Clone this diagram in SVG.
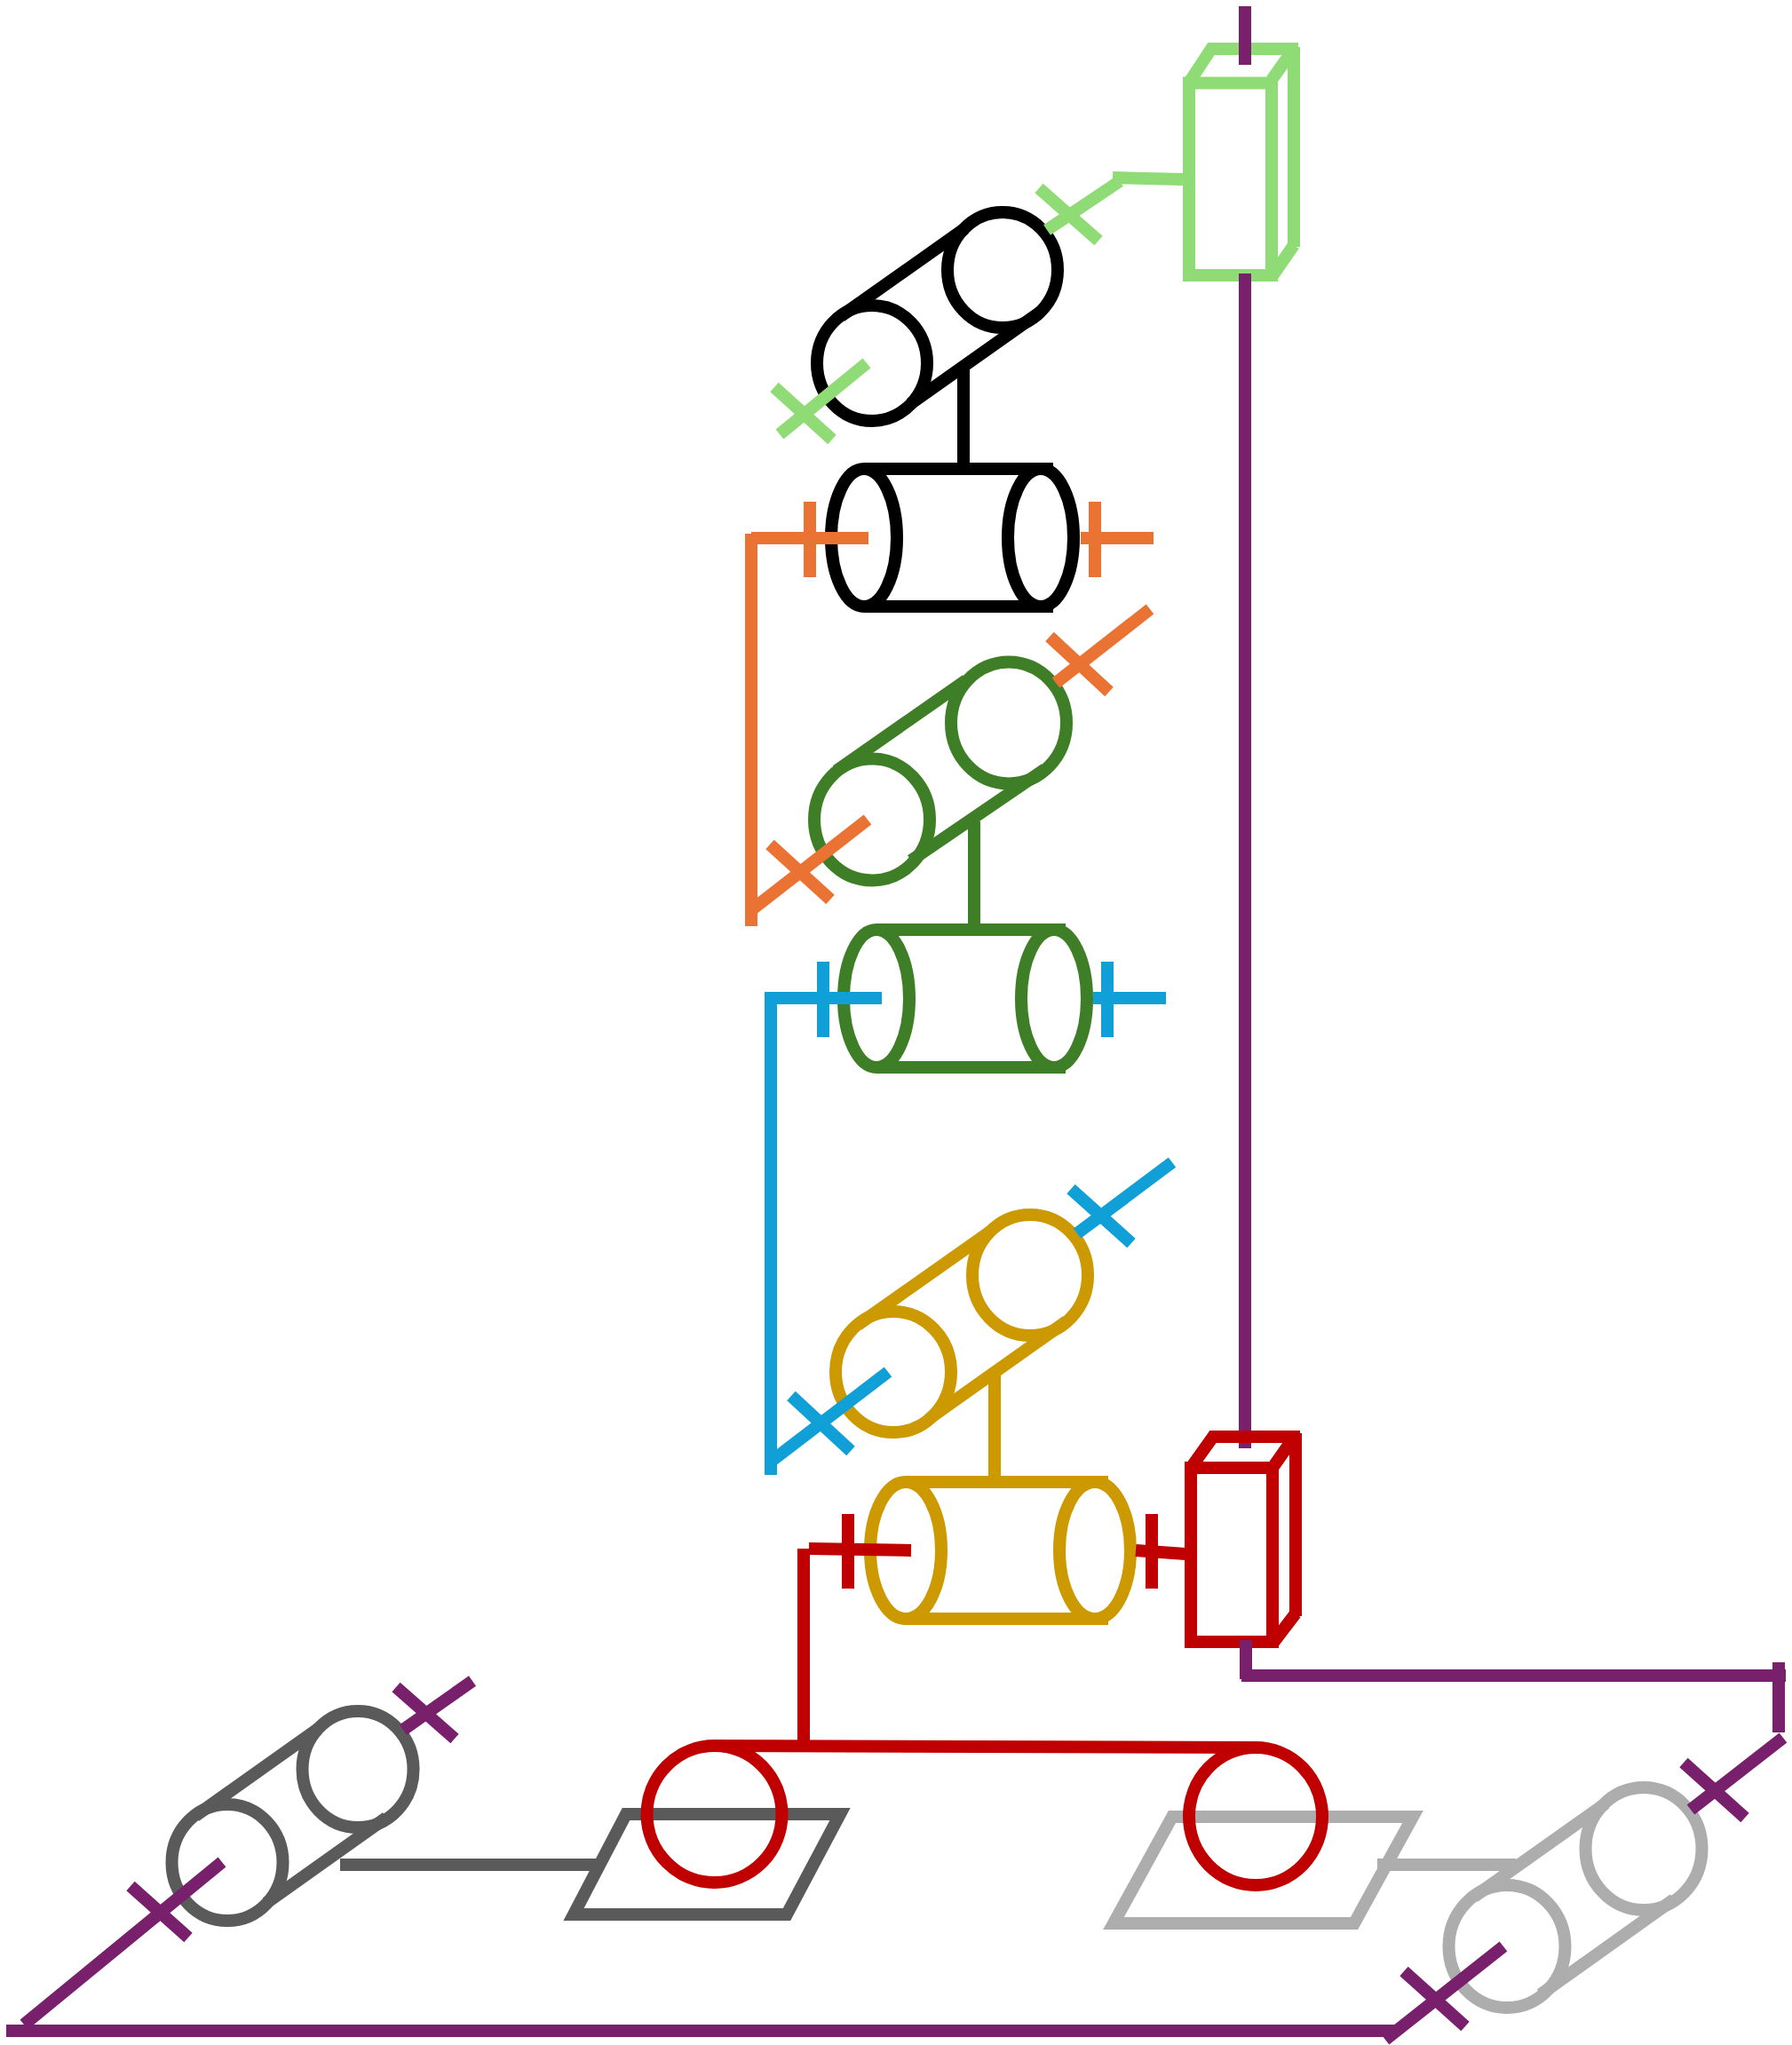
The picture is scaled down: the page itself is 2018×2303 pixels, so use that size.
<svg xmlns="http://www.w3.org/2000/svg" width="2018" height="2303" viewBox="0 0 2018 2303">
<style>
line,ellipse,path,rect{fill:none;stroke-width:14;stroke-linecap:butt;stroke-linejoin:miter}
.k{stroke:#000}.lg{stroke:#8fdb75}.o{stroke:#ea7233}.g{stroke:#3e7e26}.b{stroke:#109fd7}.y{stroke:#cc9900}.r{stroke:#c00000}.p{stroke:#78206c}.d{stroke:#5a5a5a}.l{stroke:#adadad}
</style>
<rect width="2018" height="2303" style="fill:#fff;stroke:none"/>
<g id="pulley-black" class="k">
<ellipse cx="1129" cy="304" rx="62" ry="65"/><ellipse cx="982" cy="409" rx="62" ry="65"/>
<line x1="947" y1="356" x2="1087" y2="257"/><line x1="1025" y1="455" x2="1172" y2="351"/>
</g>
<g id="cylinder-black" class="k">
<line x1="1085" y1="415" x2="1085" y2="528"/>
<ellipse cx="973" cy="605.5" rx="37" ry="77.5"/><ellipse cx="1172" cy="605.5" rx="37" ry="77.5"/>
<line x1="973" y1="528" x2="1186" y2="528"/><line x1="973" y1="683" x2="1186" y2="683"/>
</g>
<g id="pulley-green" class="g">
<ellipse cx="1136" cy="814" rx="65" ry="68.5"/><ellipse cx="982" cy="923" rx="65" ry="68.5"/>
<line x1="942" y1="868" x2="1088" y2="766"/><line x1="1026" y1="969" x2="1177" y2="866"/>
</g>
<g id="cylinder-green" class="g">
<line x1="1097" y1="925" x2="1097" y2="1047"/>
<ellipse cx="987" cy="1124.5" rx="37" ry="77.5"/><ellipse cx="1187" cy="1124.5" rx="37" ry="77.5"/>
<line x1="987" y1="1047" x2="1200" y2="1047"/><line x1="987" y1="1202" x2="1200" y2="1202"/>
</g>
<g id="pulley-gold" class="y">
<ellipse cx="1160" cy="1436" rx="65" ry="68"/><ellipse cx="1006" cy="1545" rx="65" ry="68"/>
<line x1="966" y1="1492" x2="1115" y2="1387"/><line x1="1050" y1="1595" x2="1201" y2="1488"/>
</g>
<g id="cylinder-gold" class="y">
<line x1="1120" y1="1548" x2="1120" y2="1669"/>
<ellipse cx="1020" cy="1746" rx="40" ry="77"/><ellipse cx="1233" cy="1746" rx="40" ry="77"/>
<line x1="1020" y1="1669" x2="1248" y2="1669"/><line x1="1020" y1="1823" x2="1248" y2="1823"/>
</g>
<g id="box-green" class="lg">
<rect x="1339" y="93.5" width="93" height="216.5"/>
<path d="M1339 93L1364 55H1462M1432 90L1459 52M1457 53V278M1432 312L1457 276"/>
</g>
<g id="pulley-dark" class="d">
<ellipse cx="403" cy="1992.5" rx="62.5" ry="65.5"/><ellipse cx="256" cy="2097.5" rx="62.5" ry="65.5"/>
<line x1="220" y1="2045" x2="358" y2="1947"/><line x1="300" y1="2143" x2="435" y2="2047"/>
</g>
<g id="base-dark">
<path class="d" d="M705 2043H946L886 2156H646Z"/>
<ellipse class="r" cx="804.5" cy="2043" rx="76" ry="77"/>
</g>
<g id="base-light">
<path class="l" d="M1320 2046H1591L1525 2166H1254Z"/>
<ellipse class="r" cx="1414" cy="2045.5" rx="75" ry="77.5"/>
</g>
<g id="pulley-light" class="l">
<ellipse cx="1851" cy="2082" rx="65.5" ry="69"/><ellipse cx="1697" cy="2192" rx="65.5" ry="69"/>
<line x1="1660" y1="2136" x2="1808" y2="2031"/><line x1="1735" y1="2246" x2="1885" y2="2139"/>
</g>
<g id="connectors">
<g class="p">
<line x1="1402" y1="7" x2="1402" y2="73"/><line x1="1402" y1="308" x2="1402" y2="1631"/>
<line x1="1398" y1="1887" x2="2011" y2="1887"/><line x1="2003" y1="1872" x2="2003" y2="1951"/>
<line x1="7" y1="2287" x2="1570" y2="2287"/>
<line x1="2008" y1="1957" x2="1904" y2="2038"/><line x1="1896" y1="1985" x2="1965" y2="2047"/>
<line x1="532" y1="1893" x2="454" y2="1948"/><line x1="446" y1="1900" x2="512" y2="1958"/>
<line x1="250" y1="2097" x2="27" y2="2280"/><line x1="147" y1="2124" x2="212" y2="2182"/>
<line x1="1693" y1="2192" x2="1560" y2="2297"/><line x1="1581" y1="2220" x2="1650" y2="2282"/>
</g>
<g class="lg">
<line x1="1253" y1="200" x2="1332" y2="202"/>
<line x1="1261" y1="204" x2="1179" y2="259"/><line x1="1170" y1="212" x2="1237" y2="271"/>
<line x1="976" y1="409" x2="878" y2="489"/><line x1="872" y1="436" x2="937" y2="495"/>
</g>
<g class="o">
<line x1="846" y1="1043" x2="846" y2="601"/><line x1="846" y1="606" x2="978" y2="606"/><line x1="912" y1="565" x2="912" y2="650"/>
<line x1="1217" y1="606" x2="1299" y2="606"/><line x1="1233" y1="565" x2="1233" y2="650"/>
<line x1="1295" y1="686" x2="1189" y2="769"/><line x1="1182" y1="717" x2="1249" y2="779"/>
<line x1="977" y1="923" x2="846" y2="1025"/><line x1="867" y1="951" x2="935" y2="1013"/>
</g>
<g class="b">
<path d="M868 1661V1124H993"/><line x1="927" y1="1083" x2="927" y2="1168"/>
<line x1="1231" y1="1124" x2="1313" y2="1124"/><line x1="1247" y1="1083" x2="1247" y2="1168"/>
<line x1="1320" y1="1309" x2="1213" y2="1389"/><line x1="1206" y1="1339" x2="1274" y2="1400"/>
<line x1="1000" y1="1545" x2="868" y2="1646"/><line x1="891" y1="1572" x2="958" y2="1634"/>
</g>
<g class="r">
<line x1="905" y1="1966" x2="905" y2="1744"/><line x1="911" y1="1744" x2="1026" y2="1746"/>
<line x1="955" y1="1705" x2="955" y2="1789"/><line x1="1279" y1="1746" x2="1335" y2="1750"/>
<line x1="1297" y1="1705" x2="1297" y2="1789"/>
<line x1="805" y1="1966" x2="1414" y2="1968"/>
</g>
<line class="d" x1="383" y1="2100" x2="672" y2="2100"/>
<line class="l" x1="1551" y1="2100" x2="1707" y2="2100"/>
</g>
<g id="box-red" class="r">
<rect x="1341" y="1653" width="92" height="196"/>
<path d="M1341 1653L1366 1618H1464M1433 1653L1459 1616M1459 1614V1820M1433 1851L1459 1817"/>
</g>
<g id="connector-over-box">
<line class="p" x1="1403" y1="1847" x2="1403" y2="1891"/>
</g>
</svg>
